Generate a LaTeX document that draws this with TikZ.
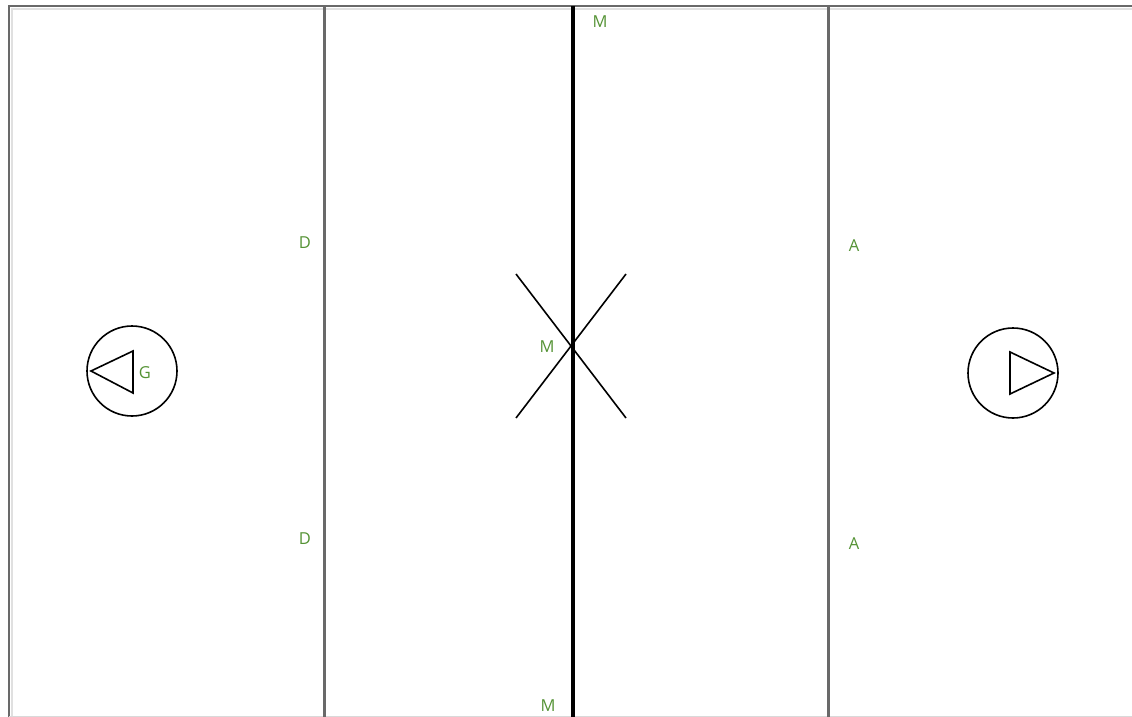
\documentclass[tikz,border=0pt]{standalone}
\usepackage{fontspec}
\setmainfont{Open Sans}
\definecolor{pitchgreen}{RGB}{84,146,52}
\definecolor{linegray}{RGB}{105,105,105}
\tikzset{
	lbl/.style={text=pitchgreen,font=\fontsize{16.5}{18}\selectfont,inner sep=0pt},
	zoneline/.style={draw=linegray,line width=3pt},
	goalring/.style={draw,circle,line width=1.6pt,minimum size=90pt,inner sep=0pt}
}
\begin{document}
\begin{tikzpicture}[x=1pt,y=-1pt]
		\useasboundingbox (0,0) rectangle (1132,717);
		\draw[black!12,line width=2.5pt] (12,717) -- (12,9) -- (1132,9);
		\draw[linegray,line width=2.8pt] (9,717) -- (9,6) -- (1132,6);
		\draw[black!15,line width=1pt] (9,716) -- (1132,716);
		\draw[zoneline] (324,6) -- (324,717);
		\draw[zoneline] (828,6) -- (828,717);
		\draw[black,line width=3.6pt] (573,6) -- (573,717);
		\draw[line width=1.6pt] (516,274) -- (626,418);
		\draw[line width=1.6pt] (626,274) -- (516,418);
		\node[goalring] (goalL) at (132,371) {};
		\draw[line width=1.6pt] (91,371) -- (133,351) -- (133,393) -- cycle;
		\node[goalring] (goalR) at (1013,373) {};
		\draw[line width=1.6pt] (1054,373) -- (1010,352) -- (1010,394) -- cycle;
		\node[lbl] (g) at (145,373) {G};
		\node[lbl] (d1) at (305,243) {D};
		\node[lbl] (d2) at (305,539) {D};
		\node[lbl] (a1) at (854,246) {A};
		\node[lbl] (a2) at (854,544) {A};
		\node[lbl] (m1) at (600,22) {M};
		\node[lbl] (m2) at (547,347) {M};
		\node[lbl] (m3) at (548,706) {M};
		\end{tikzpicture}
\end{document}
